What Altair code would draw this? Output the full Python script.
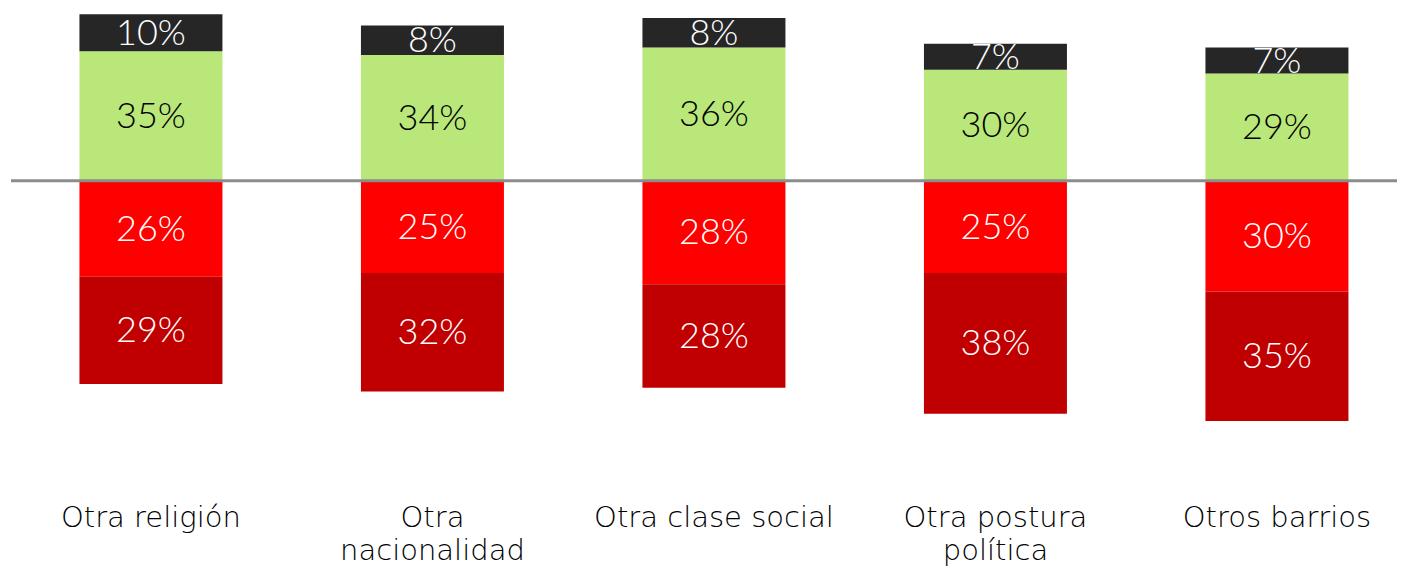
import altair as alt
import pandas as pd

categories = ["Otra religión", "Otra|nacionalidad", "Otra clase social", "Otra postura|política", "Otros barrios"]
series = ["Verde", "Negro", "Rojo", "Rojo oscuro"]
colors = ["#b9e77a", "#262626", "#ff0000", "#c00000"]
text_colors = ["#000000", "#ffffff", "#ffffff", "#ffffff"]

green = [35, 34, 36, 30, 29]
black = [10, 8, 8, 7, 7]
red = [26, 25, 28, 25, 30]
darkred = [29, 32, 28, 38, 35]

rows = []
for i, c in enumerate(categories):
    g, b, r, d = green[i], black[i], red[i], darkred[i]
    segs = [
        ("Verde", 0, g, g),
        ("Negro", g, g + b, b),
        ("Rojo", 0, -r, r),
        ("Rojo oscuro", -r, -r - d, d),
    ]
    for s, a, e, v in segs:
        rows.append({"cat": c, "serie": s, "start": a, "end": e,
                     "mid": (a + e) / 2, "label": f"{v}%",
                     "tcolor": text_colors[series.index(s)]})
df = pd.DataFrame(rows)

FONT = "Lato"
AXFONT = "DejaVu Sans"

x = alt.X("cat:N", sort=categories,
          scale=alt.Scale(paddingInner=0.492, paddingOuter=0.2078, align=0.585),
          axis=alt.Axis(title=None, orient="bottom", domain=False, ticks=False, tickSize=0,
                        labelAngle=0, labelFontSize=29, labelFont=AXFONT, labelFontWeight=200,
                        labelColor="#000000", labelPadding=45, labelLineHeight=33, labelLimit=0,
                        labelExpr="split(datum.label, '|')", labelBaseline="top"))
yscale = alt.Scale(domain=[-75, 46.7], nice=False, zero=False)

bars = alt.Chart(df).mark_bar(size=143).encode(
    x=x,
    y=alt.Y("start:Q", scale=yscale, axis=None),
    y2="end:Q",
    color=alt.Color("serie:N", scale=alt.Scale(domain=series, range=colors), legend=None),
)

texts = alt.Chart(df).mark_text(fontSize=36, font=FONT, fontWeight=300, baseline="middle", dy=1).encode(
    x=alt.X("cat:N", sort=categories),
    y=alt.Y("mid:Q", scale=yscale),
    text="label:N",
    color=alt.Color("tcolor:N", scale=None),
)

zero = alt.Chart(pd.DataFrame({"v": [0]})).mark_rule(color="#8c8c8c", strokeWidth=3).encode(
    y=alt.Y("v:Q", scale=yscale)
)

chart = alt.layer(bars, zero, texts).properties(
    width=1386, height=450,
    padding={"left": 3, "top": 0, "right": 0, "bottom": 109},
    autosize=alt.AutoSizeParams(type="none"),
    background="#ffffff",
).configure_view(strokeWidth=0, stroke=None)

chart.save("out.html", embed_options={"renderer": "svg", "actions": False})
